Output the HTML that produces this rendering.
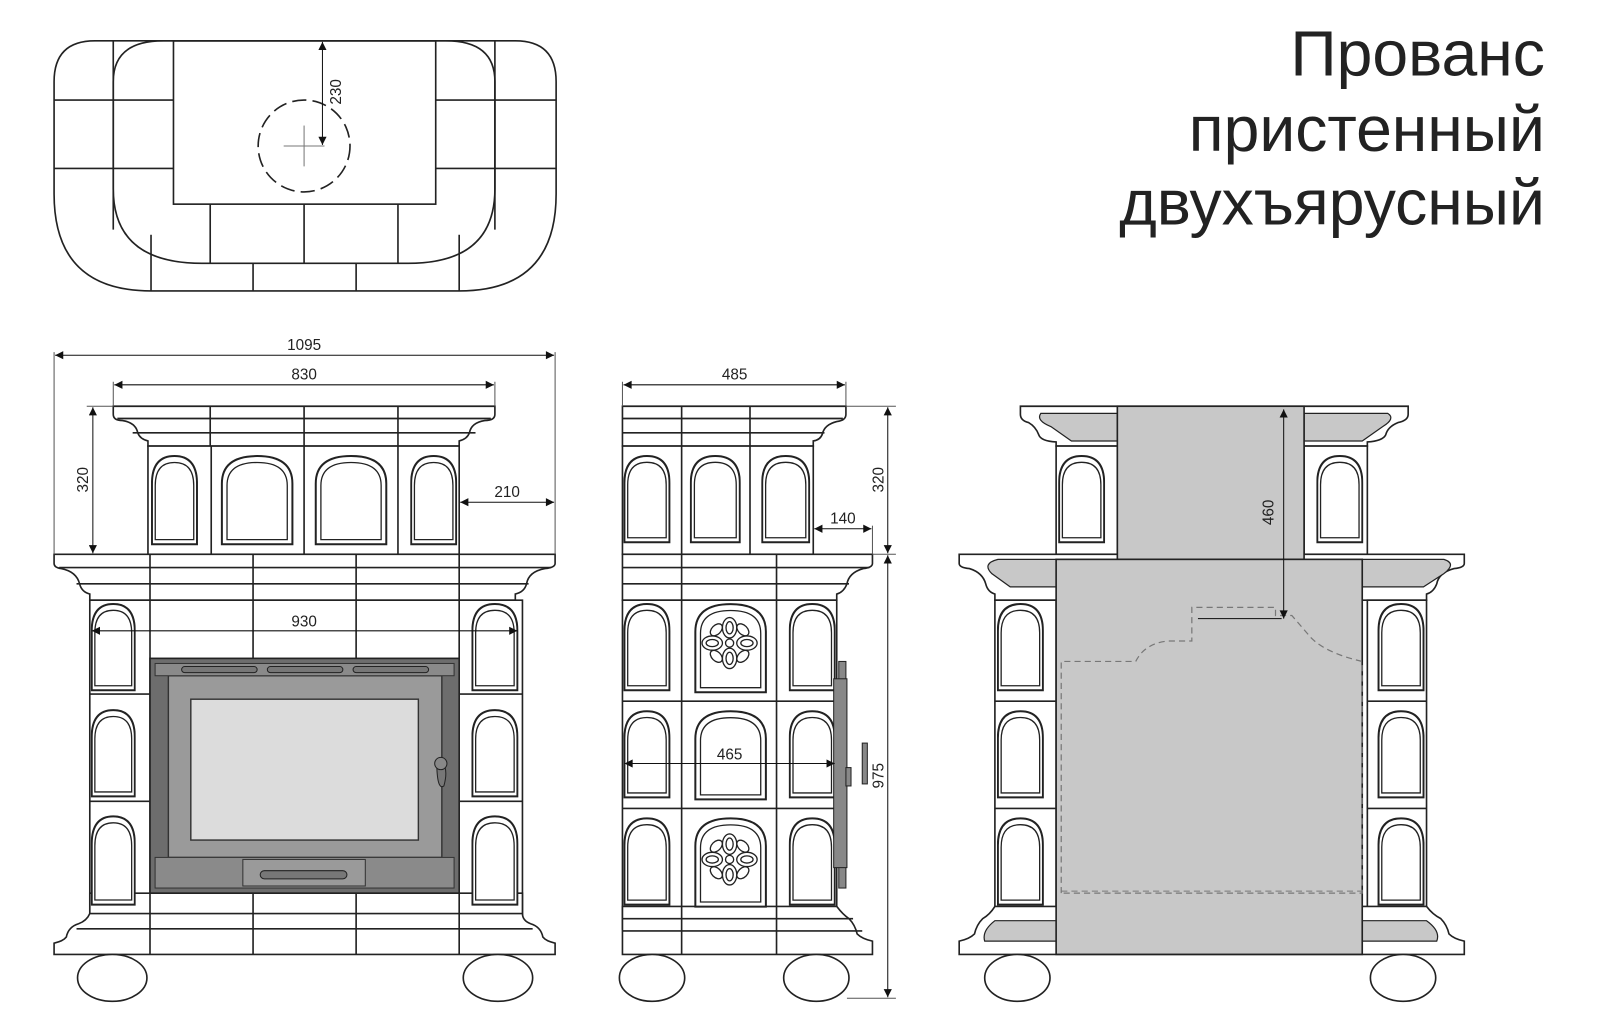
<!DOCTYPE html>
<html><head><meta charset="utf-8"><style>
html,body{margin:0;padding:0;background:#fff;}
svg{display:block;}
text{font-family:"Liberation Sans",sans-serif;}
</style></head><body>
<svg width="1600" height="1034" viewBox="0 0 1568 1013" preserveAspectRatio="none" xmlns="http://www.w3.org/2000/svg">
<defs>
<symbol id="arch" viewBox="0 0 100 100" preserveAspectRatio="none">
<path d="M2,98 L2,32 Q2,2 50,2 Q98,2 98,32 L98,98 Z" fill="#fff" stroke="#222" stroke-width="2" vector-effect="non-scaling-stroke"/>
<path d="M9,93 L9,34 Q9,9 50,9 Q91,9 91,34 L91,93 Z" fill="none" stroke="#222" stroke-width="1.3" vector-effect="non-scaling-stroke"/>
</symbol>
<marker id="ah" viewBox="0 0 10 10" refX="10" refY="5" markerWidth="10" markerHeight="8" orient="auto-start-reverse" markerUnits="userSpaceOnUse"><path d="M0,0 L10,5 L0,10 Z" fill="#111"/></marker>
<g id="flower" fill="none" stroke="#222" stroke-width="1.3">
<ellipse cx="0" cy="-15" rx="7" ry="10"/><ellipse cx="0" cy="-15" rx="3.5" ry="6"/>
<ellipse cx="0" cy="15" rx="7" ry="10"/><ellipse cx="0" cy="15" rx="3.5" ry="6"/>
<ellipse cx="-17" cy="0" rx="10" ry="7"/><ellipse cx="-17" cy="0" rx="6" ry="3.5"/>
<ellipse cx="17" cy="0" rx="10" ry="7"/><ellipse cx="17" cy="0" rx="6" ry="3.5"/>
<ellipse cx="-13" cy="-13" rx="4.5" ry="7" transform="rotate(45 -13 -13)"/>
<ellipse cx="13" cy="-13" rx="4.5" ry="7" transform="rotate(-45 13 -13)"/>
<ellipse cx="-13" cy="13" rx="4.5" ry="7" transform="rotate(-45 -13 13)"/>
<ellipse cx="13" cy="13" rx="4.5" ry="7" transform="rotate(45 13 13)"/>
<circle cx="0" cy="0" r="4"/>
</g>
</defs>

<!-- TITLE -->
<g font-size="63" fill="#222" text-anchor="end">
<text x="1514" y="74">Прованс</text>
<text x="1514" y="148">пристенный</text>
<text x="1514" y="220">двухъярусный</text>
</g>

<!-- TOP PLAN -->
<g fill="none" stroke="#222" stroke-width="1.6">
<path d="M93,40 H505 Q545,40 545,80 V190 Q545,285 450,285 H148 Q53,285 53,190 V80 Q53,40 93,40 Z"/>
<path d="M111,80 Q111,40 160,40 H437 Q485,40 485,80 V185 Q485,258 400,258 H198 Q111,258 111,185 Z"/>
<rect x="170" y="40" width="257" height="160"/>
<line x1="53" y1="98" x2="170" y2="98"/><line x1="427" y1="98" x2="545" y2="98"/>
<line x1="53" y1="165" x2="170" y2="165"/><line x1="427" y1="165" x2="545" y2="165"/>
<line x1="111" y1="40" x2="111" y2="225"/><line x1="485" y1="40" x2="485" y2="225"/>
<line x1="206" y1="200" x2="206" y2="258"/><line x1="298" y1="200" x2="298" y2="258"/><line x1="390" y1="200" x2="390" y2="258"/>
<line x1="148" y1="230" x2="148" y2="285"/><line x1="248" y1="258" x2="248" y2="285"/><line x1="349" y1="258" x2="349" y2="285"/><line x1="450" y1="230" x2="450" y2="285"/>
<circle cx="298" cy="143" r="45" stroke-dasharray="14 6"/>
</g>
<line x1="278" y1="143" x2="318" y2="143" stroke="#777" stroke-width="1"/>
<line x1="298" y1="123" x2="298" y2="163" stroke="#777" stroke-width="1"/>
<line x1="316" y1="41" x2="316" y2="142" stroke="#111" stroke-width="1" marker-start="url(#ah)" marker-end="url(#ah)"/>
<text x="0" y="0" font-size="15" fill="#222" transform="translate(334,90) rotate(-90)" text-anchor="middle">230</text>

<!-- FRONT VIEW -->
<g stroke="#222" stroke-width="1.6" fill="#fff">
<path d="M111,398 H485 V406 Q485,412 475,412 Q462,414 460,424 Q458,430 450,432 L450,437 H145 V432 Q137,430 135,424 Q133,414 120,412 Q111,412 111,406 Z"/>
<line x1="115" y1="410" x2="481" y2="410"/><line x1="130" y1="424" x2="466" y2="424"/>
<line x1="206" y1="398" x2="206" y2="437"/><line x1="298" y1="398" x2="298" y2="437"/><line x1="390" y1="398" x2="390" y2="437"/>
<rect x="145" y="437" width="305" height="106"/>
<line x1="207" y1="437" x2="207" y2="543"/><line x1="298" y1="437" x2="298" y2="543"/><line x1="390" y1="437" x2="390" y2="543"/>
<path d="M53,543 H544 V552 Q544,556 534,557 Q518,560 516,572 Q514,580 505,582 L505,588 H88 V582 Q80,580 78,572 Q75,560 60,557 Q53,556 53,552 Z"/>
<line x1="58" y1="556" x2="540" y2="556"/><line x1="75" y1="572" x2="518" y2="572"/>
<rect x="88" y="588" width="424" height="322"/>
<line x1="147" y1="543" x2="147" y2="935"/><line x1="450" y1="543" x2="450" y2="935"/>
<line x1="248" y1="543" x2="248" y2="645"/><line x1="349" y1="543" x2="349" y2="645"/>
<line x1="88" y1="680" x2="147" y2="680"/><line x1="450" y1="680" x2="512" y2="680"/>
<line x1="88" y1="785" x2="147" y2="785"/><line x1="450" y1="785" x2="512" y2="785"/>
<path d="M88,875 H512 V895 Q512,902 520,905 Q530,908 532,918 Q535,922 544,924 V935 H53 V924 Q62,922 65,918 Q67,908 77,905 Q85,902 88,895 Z"/>
<line x1="88" y1="895" x2="512" y2="895"/><line x1="75" y1="910" x2="522" y2="910"/>
<line x1="147" y1="875" x2="147" y2="935"/><line x1="248" y1="875" x2="248" y2="935"/><line x1="349" y1="875" x2="349" y2="935"/><line x1="450" y1="875" x2="450" y2="935"/>
<ellipse cx="110" cy="958" rx="34" ry="23"/><ellipse cx="488" cy="958" rx="34" ry="23"/>
</g>
<use href="#arch" x="148" y="445" width="46" height="90"/>
<use href="#arch" x="216" y="445" width="72" height="90"/>
<use href="#arch" x="308" y="445" width="72" height="90"/>
<use href="#arch" x="402" y="445" width="46" height="90"/>
<use href="#arch" x="89" y="590" width="44" height="88"/><use href="#arch" x="462" y="590" width="46" height="88"/>
<use href="#arch" x="89" y="694" width="44" height="88"/><use href="#arch" x="462" y="694" width="46" height="88"/>
<use href="#arch" x="89" y="798" width="44" height="90"/><use href="#arch" x="462" y="798" width="46" height="90"/>
<rect x="147" y="645" width="303" height="230" fill="#6d6d6d" stroke="#222" stroke-width="1.6"/>
<rect x="165" y="662" width="268" height="178" fill="#9a9a9a" stroke="#333" stroke-width="1.4"/>
<rect x="187" y="685" width="223" height="138" fill="#dcdcdc" stroke="#333" stroke-width="1.4"/>
<rect x="152" y="650" width="293" height="12" fill="#8a8a8a" stroke="#333"/>
<rect x="178" y="653" width="74" height="6" rx="3" fill="#777" stroke="#222"/>
<rect x="262" y="653" width="74" height="6" rx="3" fill="#777" stroke="#222"/>
<rect x="346" y="653" width="74" height="6" rx="3" fill="#777" stroke="#222"/>
<rect x="152" y="840" width="293" height="30" fill="#8a8a8a" stroke="#333"/>
<rect x="238" y="842" width="120" height="26" fill="#9a9a9a" stroke="#333"/>
<rect x="255" y="853" width="85" height="8" rx="4" fill="#777" stroke="#222"/>
<path d="M428,745 Q428,775 435,770 Q440,752 432,745" fill="#777" stroke="#222"/>
<circle cx="432" cy="748" r="6" fill="#888" stroke="#222"/>

<!-- SIDE VIEW -->
<g stroke="#222" stroke-width="1.6" fill="#fff">
<path d="M610,398 H829 V406 Q829,412 820,413 Q808,416 806,425 Q804,431 797,432 V437 H610 Z"/>
<line x1="610" y1="410" x2="826" y2="410"/><line x1="610" y1="424" x2="808" y2="424"/>
<line x1="668" y1="398" x2="668" y2="543"/><line x1="735" y1="398" x2="735" y2="543"/>
<rect x="610" y="437" width="187" height="106"/>
<line x1="668" y1="437" x2="668" y2="543"/><line x1="735" y1="437" x2="735" y2="543"/>
<path d="M610,543 H855 V552 Q855,556 846,557 Q832,561 830,572 Q827,580 820,582 V588 H610 Z"/>
<line x1="610" y1="556" x2="852" y2="556"/><line x1="610" y1="572" x2="832" y2="572"/>
<rect x="610" y="588" width="210" height="322"/>
<line x1="668" y1="543" x2="668" y2="935"/><line x1="761" y1="543" x2="761" y2="935"/>
<line x1="610" y1="687" x2="820" y2="687"/><line x1="610" y1="792" x2="820" y2="792"/>
<path d="M610,888 H820 Q826,896 832,900 Q838,906 840,915 Q845,920 855,922 V935 H610 Z"/>
<line x1="610" y1="900" x2="836" y2="900"/><line x1="610" y1="912" x2="845" y2="912"/>
<line x1="668" y1="888" x2="668" y2="935"/><line x1="761" y1="888" x2="761" y2="935"/>
<ellipse cx="639" cy="958" rx="32" ry="23"/><ellipse cx="800" cy="958" rx="32" ry="23"/>
</g>
<use href="#arch" x="611" y="445" width="46" height="88"/>
<use href="#arch" x="676" y="445" width="50" height="88"/>
<use href="#arch" x="746" y="445" width="48" height="88"/>
<use href="#arch" x="611" y="590" width="46" height="88"/><use href="#arch" x="680" y="590" width="72" height="90"/><use href="#arch" x="773" y="590" width="46" height="88"/>
<use href="#arch" x="611" y="695" width="46" height="88"/><use href="#arch" x="680" y="695" width="72" height="90"/><use href="#arch" x="773" y="695" width="46" height="88"/>
<use href="#arch" x="611" y="800" width="46" height="88"/><use href="#arch" x="680" y="800" width="72" height="90"/><use href="#arch" x="773" y="800" width="46" height="88"/>
<use href="#flower" x="715" y="630"/>
<use href="#flower" x="715" y="842"/>
<rect x="822" y="648" width="7" height="222" fill="#888" stroke="#222"/>
<rect x="817" y="665" width="13" height="185" fill="#888" stroke="#222"/>
<rect x="829" y="752" width="5" height="18" fill="#888" stroke="#222"/>
<rect x="845" y="728" width="5" height="40" fill="#888" stroke="#222"/>

<!-- RIGHT VIEW -->
<g stroke="#222" stroke-width="1.6">
<path d="M1000,398 H1380 V406 Q1380,412 1370,414 Q1360,418 1358,426 Q1355,432 1340,433 V437 H1035 V433 Q1020,432 1018,426 Q1015,418 1008,414 Q1000,412 1000,406 Z" fill="#fff"/>
<path d="M1020,405 Q1015,412 1030,418 L1050,432 H1095 V405 Z" fill="#c8c8c8" stroke-width="1.2"/>
<path d="M1278,405 H1360 Q1368,410 1355,418 L1335,432 H1278 Z" fill="#c8c8c8" stroke-width="1.2"/>
<rect x="1035" y="437" width="60" height="106" fill="#fff"/>
<rect x="1278" y="437" width="62" height="106" fill="#fff"/>
<path d="M940,543 H1435 V552 Q1435,556 1425,557 Q1410,561 1408,572 Q1405,580 1398,582 V588 H975 V582 Q968,580 966,572 Q963,561 950,557 Q940,556 940,552 Z" fill="#fff"/>
<path d="M978,548 Q962,552 972,562 L990,575 H1035 V548 Z" fill="#c8c8c8" stroke-width="1.2"/>
<path d="M1335,548 H1415 Q1428,552 1415,562 L1395,575 H1335 Z" fill="#c8c8c8" stroke-width="1.2"/>
<rect x="975" y="588" width="60" height="322" fill="#fff"/>
<rect x="1340" y="588" width="58" height="322" fill="#fff"/>
<line x1="975" y1="687" x2="1035" y2="687"/><line x1="975" y1="792" x2="1035" y2="792"/>
<line x1="1340" y1="687" x2="1398" y2="687"/><line x1="1340" y1="792" x2="1398" y2="792"/>
<path d="M975,888 H1398 Q1404,896 1412,900 Q1418,906 1420,915 Q1425,920 1435,922 V935 H940 V922 Q950,920 955,915 Q957,906 963,900 Q970,896 975,888 Z" fill="#fff"/>
<path d="M975,902 Q962,912 965,922 H1035 V902 Z" fill="#c8c8c8" stroke-width="1.2"/>
<path d="M1335,902 H1398 Q1412,912 1408,922 H1335 Z" fill="#c8c8c8" stroke-width="1.2"/>
<rect x="1095" y="398" width="183" height="150" fill="#c8c8c8"/>
<rect x="1035" y="548" width="300" height="387" fill="#c8c8c8"/>
<ellipse cx="997" cy="958" rx="32" ry="23" fill="#fff"/><ellipse cx="1375" cy="958" rx="32" ry="23" fill="#fff"/>
</g>
<use href="#arch" x="1037" y="445" width="46" height="88"/><use href="#arch" x="1290" y="445" width="46" height="88"/>
<use href="#arch" x="977" y="590" width="46" height="88"/><use href="#arch" x="1350" y="590" width="46" height="88"/>
<use href="#arch" x="977" y="695" width="46" height="88"/><use href="#arch" x="1350" y="695" width="46" height="88"/>
<use href="#arch" x="977" y="800" width="46" height="88"/><use href="#arch" x="1350" y="800" width="46" height="88"/>
<path d="M1040,875 V648 H1113 Q1122,630 1145,628 H1168 V595 H1250 V603 H1266 L1285,625 Q1300,640 1335,648 V875 Z" fill="none" stroke="#777" stroke-width="1.2" stroke-dasharray="6 4"/>
<line x1="1040" y1="873" x2="1335" y2="873" stroke="#777" stroke-width="1" stroke-dasharray="6 4"/>
<line x1="1174" y1="606" x2="1256" y2="606" stroke="#222" stroke-width="1"/>
<line x1="1258" y1="401" x2="1258" y2="606" stroke="#111" stroke-width="1" marker-start="url(#ah)" marker-end="url(#ah)"/>
<text font-size="15" fill="#222" transform="translate(1248,502) rotate(-90)" text-anchor="middle">460</text>

<!-- DIMENSIONS -->
<g stroke="#555" stroke-width="1" fill="none">
<line x1="53" y1="345" x2="53" y2="543"/><line x1="544" y1="345" x2="544" y2="543"/>
<line x1="111" y1="374" x2="111" y2="398"/><line x1="485" y1="374" x2="485" y2="398"/>
<line x1="85" y1="398" x2="111" y2="398"/>
<line x1="610" y1="374" x2="610" y2="398"/><line x1="829" y1="374" x2="829" y2="398"/>
<line x1="829" y1="398" x2="878" y2="398"/><line x1="855" y1="543" x2="878" y2="543"/><line x1="830" y1="978" x2="878" y2="978"/>
<line x1="855" y1="515" x2="855" y2="543"/>
</g>
<g stroke="#111" stroke-width="1" marker-start="url(#ah)" marker-end="url(#ah)">
<line x1="54" y1="348" x2="543" y2="348"/>
<line x1="112" y1="377" x2="484" y2="377"/>
<line x1="91" y1="399" x2="91" y2="542"/>
<line x1="451" y1="492" x2="543" y2="492"/>
<line x1="90" y1="618" x2="507" y2="618"/>
<line x1="611" y1="377" x2="828" y2="377"/>
<line x1="870" y1="399" x2="870" y2="542"/>
<line x1="870" y1="544" x2="870" y2="977"/>
<line x1="798" y1="518" x2="854" y2="518"/>
<line x1="612" y1="748" x2="818" y2="748"/>
</g>
<g font-size="15" fill="#222" text-anchor="middle">
<text x="298" y="343">1095</text>
<text x="298" y="372">830</text>
<text x="497" y="487">210</text>
<text x="298" y="614">930</text>
<text x="720" y="372">485</text>
<text x="826" y="513">140</text>
<text x="715" y="744">465</text>
<text transform="translate(86,470) rotate(-90)">320</text>
<text transform="translate(866,470) rotate(-90)">320</text>
<text transform="translate(866,760) rotate(-90)">975</text>
</g>
</svg>
</body></html>
